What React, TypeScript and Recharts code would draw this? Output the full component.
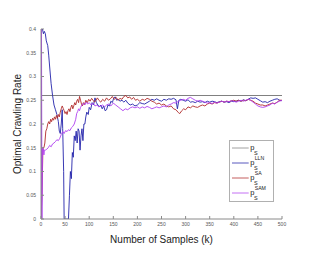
import React from 'react';
import { LineChart, Line, XAxis, YAxis, Legend } from 'recharts';

// ---- data ----
const xTicks = [0, 50, 100, 150, 200, 250, 300, 350, 400, 450, 500];
const yTicks = [0, 0.05, 0.1, 0.15, 0.2, 0.25, 0.3, 0.35, 0.4];

const psX = [0, 500];
const psY = [0.26, 0.26];

const llnX = [0, 1, 3, 5, 7, 9, 11, 14, 16, 18, 21, 24, 27, 30, 33, 36, 38, 40, 42, 44, 45, 47, 48, 50, 53, 55, 57, 59, 61, 63, 65, 67, 69, 71, 73, 75, 77, 79, 81, 83, 85, 87, 89, 91, 93, 95, 98, 100, 103, 106, 109, 112, 115, 118, 121, 124, 127, 130, 133, 136, 139, 142, 145, 148, 151, 154, 157, 160, 164, 168, 172, 176, 180, 185, 190, 195, 200, 205, 210, 215, 220, 225, 230, 235, 240, 245, 250, 255, 260, 265, 270, 275, 280, 283, 286, 290, 295, 300, 305, 310, 315, 320, 325, 330, 335, 340, 345, 350, 355, 360, 365, 370, 375, 380, 385, 390, 395, 400, 405, 410, 415, 420, 425, 430, 435, 440, 445, 450, 455, 460, 465, 470, 475, 480, 485, 490, 495, 500];
const llnY = [0, 0.4, 0.4, 0.39, 0.395, 0.39, 0.375, 0.365, 0.345, 0.32, 0.285, 0.26, 0.24, 0.23, 0.22, 0.205, 0.185, 0.18, 0.2, 0.23, 0.19, 0.1, 0, 0, 0, 0, 0, 0.05, 0.1, 0.085, 0.14, 0.13, 0.175, 0.165, 0.185, 0.16, 0.19, 0.185, 0.145, 0.175, 0.19, 0.165, 0.2, 0.2, 0.215, 0.225, 0.22, 0.235, 0.23, 0.245, 0.24, 0.255, 0.245, 0.24, 0.236, 0.24, 0.232, 0.238, 0.228, 0.23, 0.24, 0.238, 0.248, 0.245, 0.255, 0.257, 0.25, 0.252, 0.248, 0.25, 0.246, 0.25, 0.244, 0.24, 0.242, 0.238, 0.24, 0.245, 0.243, 0.242, 0.245, 0.248, 0.252, 0.25, 0.253, 0.25, 0.248, 0.252, 0.25, 0.253, 0.252, 0.254, 0.251, 0.232, 0.25, 0.252, 0.25, 0.248, 0.251, 0.246, 0.247, 0.245, 0.248, 0.246, 0.247, 0.245, 0.248, 0.246, 0.248, 0.247, 0.245, 0.247, 0.248, 0.246, 0.247, 0.245, 0.248, 0.247, 0.248, 0.25, 0.248, 0.251, 0.249, 0.252, 0.255, 0.254, 0.255, 0.252, 0.249, 0.246, 0.247, 0.245, 0.248, 0.25, 0.252, 0.253, 0.25, 0.249];

const saX = [0, 2, 4, 6, 8, 10, 12, 14, 16, 18, 20, 22, 24, 26, 28, 30, 32, 34, 36, 38, 40, 42, 44, 46, 48, 50, 52, 54, 56, 58, 60, 62, 64, 66, 68, 70, 72, 74, 76, 78, 80, 82, 84, 86, 88, 90, 93, 96, 99, 102, 105, 108, 111, 114, 117, 120, 124, 128, 132, 136, 140, 144, 148, 152, 156, 160, 164, 168, 172, 176, 180, 184, 188, 192, 196, 200, 205, 210, 215, 220, 225, 230, 235, 240, 245, 250, 255, 260, 265, 270, 275, 280, 285, 288, 292, 296, 300, 305, 310, 315, 320, 325, 330, 335, 340, 345, 350, 355, 360, 365, 370, 375, 380, 385, 390, 395, 400, 405, 410, 415, 420, 425, 430, 435, 440, 445, 450, 455, 460, 465, 470, 475, 480, 485, 490, 495, 500];
const saY = [0, 0.05, 0.15, 0.15, 0.16, 0.185, 0.19, 0.2, 0.205, 0.2, 0.21, 0.205, 0.212, 0.208, 0.215, 0.21, 0.218, 0.212, 0.22, 0.215, 0.225, 0.232, 0.238, 0.233, 0.228, 0.222, 0.226, 0.22, 0.228, 0.232, 0.226, 0.235, 0.24, 0.232, 0.238, 0.245, 0.24, 0.248, 0.252, 0.245, 0.258, 0.25, 0.242, 0.238, 0.245, 0.24, 0.25, 0.245, 0.252, 0.248, 0.254, 0.25, 0.246, 0.25, 0.255, 0.25, 0.246, 0.252, 0.248, 0.255, 0.25, 0.253, 0.258, 0.252, 0.256, 0.25, 0.254, 0.252, 0.258, 0.26, 0.255, 0.257, 0.252, 0.256, 0.25, 0.252, 0.248, 0.252, 0.25, 0.254, 0.252, 0.248, 0.246, 0.242, 0.244, 0.24, 0.242, 0.238, 0.236, 0.238, 0.232, 0.23, 0.224, 0.222, 0.228, 0.232, 0.23, 0.236, 0.234, 0.238, 0.236, 0.235, 0.238, 0.24, 0.238, 0.242, 0.244, 0.242, 0.245, 0.244, 0.246, 0.248, 0.246, 0.248, 0.247, 0.249, 0.25, 0.248, 0.25, 0.248, 0.25, 0.249, 0.252, 0.25, 0.248, 0.244, 0.242, 0.24, 0.24, 0.238, 0.24, 0.242, 0.244, 0.243, 0.246, 0.25, 0.25];

const samX = [0, 1, 2, 3, 5, 6, 7, 9, 12, 15, 18, 21, 24, 27, 30, 33, 36, 39, 42, 45, 48, 51, 54, 57, 60, 63, 66, 69, 72, 74, 76, 78, 80, 82, 85, 88, 91, 94, 97, 100, 104, 108, 112, 116, 120, 124, 128, 132, 136, 140, 145, 150, 155, 160, 165, 170, 175, 180, 185, 190, 195, 200, 205, 210, 215, 220, 225, 230, 235, 240, 245, 250, 255, 260, 265, 270, 275, 280, 285, 290, 295, 300, 305, 310, 315, 320, 325, 330, 335, 340, 345, 350, 355, 360, 365, 370, 375, 380, 385, 390, 395, 400, 405, 410, 415, 420, 425, 430, 435, 440, 445, 450, 455, 460, 465, 470, 475, 480, 485, 490, 495, 500];
const samY = [0, 0.4, 0, 0.15, 0.148, 0.135, 0.145, 0.145, 0.147, 0.15, 0.155, 0.152, 0.158, 0.16, 0.163, 0.167, 0.165, 0.17, 0.178, 0.184, 0.18, 0.186, 0.184, 0.188, 0.186, 0.192, 0.195, 0.2, 0.21, 0.222, 0.226, 0.232, 0.228, 0.235, 0.24, 0.244, 0.24, 0.246, 0.242, 0.245, 0.24, 0.244, 0.238, 0.24, 0.236, 0.238, 0.24, 0.236, 0.24, 0.242, 0.238, 0.244, 0.24, 0.236, 0.232, 0.228, 0.232, 0.23, 0.234, 0.236, 0.234, 0.236, 0.233, 0.236, 0.234, 0.237, 0.235, 0.232, 0.234, 0.236, 0.234, 0.236, 0.238, 0.236, 0.24, 0.242, 0.245, 0.244, 0.248, 0.25, 0.252, 0.25, 0.254, 0.256, 0.253, 0.25, 0.248, 0.25, 0.248, 0.246, 0.244, 0.245, 0.243, 0.246, 0.244, 0.246, 0.248, 0.246, 0.248, 0.247, 0.249, 0.248, 0.246, 0.248, 0.25, 0.248, 0.25, 0.252, 0.25, 0.246, 0.242, 0.238, 0.236, 0.235, 0.236, 0.238, 0.24, 0.244, 0.242, 0.246, 0.248, 0.25];

const seriesNames = ['ps', 'lln', 'sa', 'sam'];
const legendSup = ['', 'LLN', 'SA', 'SAM'];
const colors = ['#808080', '#2222aa', '#b02a2a', '#b040f0'];

const toPoints = (xs: number[], ys: number[]) => xs.map((x, i) => ({ x, y: ys[i] }));
const psData = toPoints(psX, psY);
const llnData = toPoints(llnX, llnY);
const saData = toPoints(saX, saY);
const samData = toPoints(samX, samY);

const AXIS = '#8a8a8a';
const FONT = '"Liberation Sans", Arial, Helvetica, sans-serif';
const tickStyle = { fontSize: 5, fill: '#555', fontFamily: FONT };

const rowY = [8, 23, 38, 53];

const LegendBox = () => (
  <svg width={45} height={62} style={{ display: 'block' }}>
    <rect x={0.5} y={0.5} width={44} height={61} fill="#fff" stroke="#b0b0b0" strokeWidth={1} />
    {seriesNames.map((n, i) => (
      <g key={n}>
        <line x1={3} x2={19.7} y1={rowY[i]} y2={rowY[i]} stroke={colors[i]} strokeWidth={1} strokeOpacity={0.75} />
        <text x={21.2} y={rowY[i] + 1.8} fontSize={7.5} fontFamily={FONT} fill="#222">p</text>
        <text x={25} y={rowY[i] + 6.8} fontSize={5.5} fontFamily={FONT} fill="#222">S</text>
        {legendSup[i] ? (
          <text x={25.7} y={rowY[i] - 2.9} fontSize={5.2} fontFamily={FONT} fill="#222">{legendSup[i]}</text>
        ) : null}
      </g>
    ))}
  </svg>
);

export default function App() {
  return (
    <div style={{ position: 'absolute', left: 0, top: 0, width: 311, height: 257, background: '#fff' }}>
      <LineChart width={311} height={257} margin={{ top: 29, right: 29, bottom: 8, left: 11 }}>
        <XAxis
          xAxisId={0}
          dataKey="x"
          type="number"
          domain={[0, 500]}
          ticks={xTicks}
          height={30}
          stroke={AXIS}
          tickSize={-3}
          tickMargin={6}
          tick={tickStyle}
          interval={0}
          allowDataOverflow
          label={{ value: 'Number of Samples (k)', position: 'insideBottom', offset: 6, style: { fontSize: 10, fill: '#222', fontFamily: FONT } }}
        />
        <XAxis
          xAxisId="top"
          orientation="top"
          dataKey="x"
          type="number"
          domain={[0, 500]}
          ticks={xTicks}
          height={0}
          stroke={AXIS}
          tickSize={-3}
          tickFormatter={() => ''}
          interval={0}
        />
        <YAxis
          yAxisId={0}
          type="number"
          domain={[0, 0.4]}
          ticks={yTicks}
          width={30}
          stroke={AXIS}
          tickSize={-3}
          tickMargin={8}
          tick={tickStyle}
          interval={0}
          allowDataOverflow
          label={(props: any) => {
            const vb = props.viewBox || {};
            const cx = 17;
            const cy = (vb.y ?? 29) + (vb.height ?? 190) / 2;
            return (
              <text x={cx} y={cy} transform={`rotate(-90 ${cx} ${cy})`} textAnchor="middle" dominantBaseline="central" fontSize={10} fill="#222" fontFamily={FONT}>
                Optimal Crawling Rate
              </text>
            );
          }}
        />
        <YAxis
          yAxisId="right"
          orientation="right"
          type="number"
          domain={[0, 0.4]}
          ticks={yTicks}
          width={0}
          stroke={AXIS}
          tickSize={-3}
          tickFormatter={() => ''}
          interval={0}
        />
        <Legend
          layout="horizontal"
          verticalAlign="middle"
          align="center"
          wrapperStyle={{ left: 229, top: 140, width: 45, height: 62 }}
          content={() => <LegendBox />}
        />
        <Line data={psData} dataKey="y" name="ps" stroke={colors[0]} strokeWidth={1.2} dot={false} isAnimationActive={false} />
        <Line data={llnData} dataKey="y" name="lln" stroke={colors[1]} strokeWidth={0.9} dot={false} isAnimationActive={false} />
        <Line data={saData} dataKey="y" name="sa" stroke={colors[2]} strokeWidth={0.9} dot={false} isAnimationActive={false} />
        <Line data={samData} dataKey="y" name="sam" stroke={colors[3]} strokeWidth={0.9} dot={false} isAnimationActive={false} />
      </LineChart>
    </div>
  );
}
